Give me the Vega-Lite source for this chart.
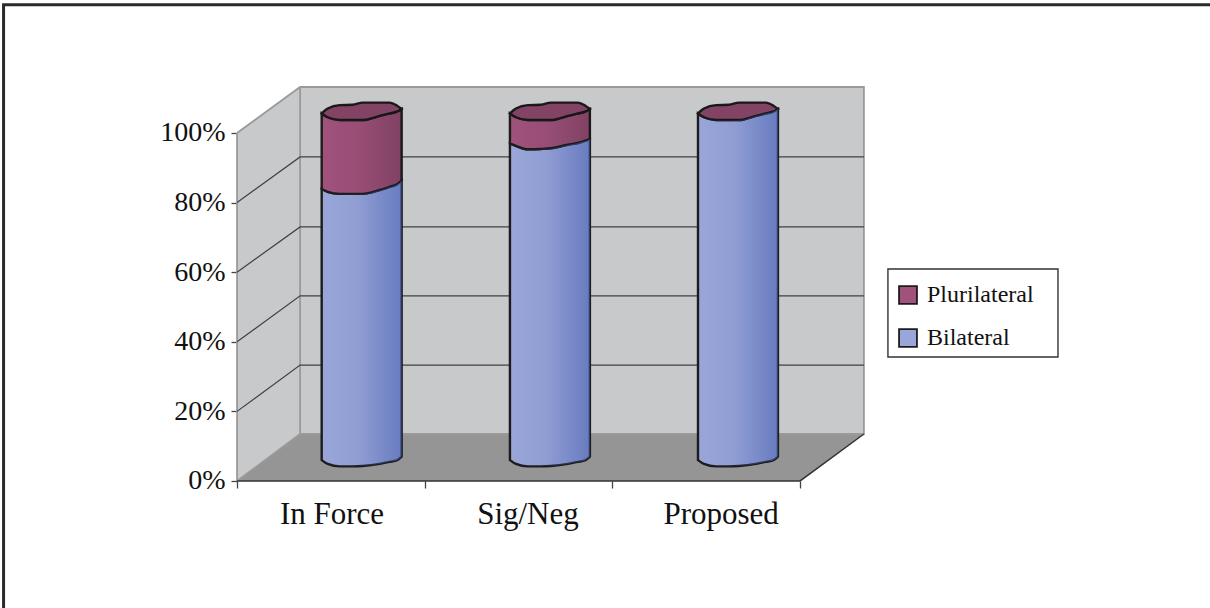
{"$schema":"https://vega.github.io/schema/vega-lite/v6.json","width":1210,"height":608,"padding":0,"autosize":{"type":"none"},"background":"white","config":{"view":{"stroke":null}},
"datasets":{
"walls":[{"kind":"side","x":0,"y":0,"y2":1},{"kind":"side","x":0.336,"y":0.135,"y2":1.132},
{"kind":"back","x":0.336,"y":0.135,"y2":1.132},{"kind":"back","x":3.34,"y":0.135,"y2":1.132},
{"kind":"floor","x":0,"y":0,"y2":0},{"kind":"floor","x":0.336,"y":0,"y2":0.135},{"kind":"floor","x":3,"y":0,"y2":0.135},{"kind":"floor","x":3.34,"y":0.135,"y2":0.135}],
"lines":[
{"kind":"grid","id":"g20","o":0,"x":0,"y":0.2},{"kind":"grid","id":"g20","o":1,"x":0.336,"y":0.333},{"kind":"grid","id":"g20","o":2,"x":3.34,"y":0.333},
{"kind":"grid","id":"g40","o":0,"x":0,"y":0.4},{"kind":"grid","id":"g40","o":1,"x":0.336,"y":0.532},{"kind":"grid","id":"g40","o":2,"x":3.34,"y":0.532},
{"kind":"grid","id":"g60","o":0,"x":0,"y":0.6},{"kind":"grid","id":"g60","o":1,"x":0.336,"y":0.73},{"kind":"grid","id":"g60","o":2,"x":3.34,"y":0.73},
{"kind":"grid","id":"g80","o":0,"x":0,"y":0.8},{"kind":"grid","id":"g80","o":1,"x":0.336,"y":0.931},{"kind":"grid","id":"g80","o":2,"x":3.34,"y":0.931},
{"kind":"edge","id":"e1","o":0,"x":0,"y":1},{"kind":"edge","id":"e1","o":1,"x":0.336,"y":1.132},{"kind":"edge","id":"e1","o":2,"x":3.34,"y":1.132},{"kind":"edge","id":"e1","o":3,"x":3.34,"y":0.135},{"kind":"edge","id":"e1","o":4,"x":0.336,"y":0.135},{"kind":"edge","id":"e1","o":5,"x":0.336,"y":1.132},
{"kind":"edge","id":"e2","o":0,"x":0,"y":0},{"kind":"edge","id":"e2","o":1,"x":0.336,"y":0.135},
{"kind":"edge","id":"e3","o":0,"x":0,"y":0},{"kind":"edge","id":"e3","o":1,"x":0,"y":1},
{"kind":"dark","id":"d1","o":0,"x":0,"y":0},{"kind":"dark","id":"d1","o":1,"x":3,"y":0},{"kind":"dark","id":"d1","o":2,"x":3.34,"y":0.135},
{"kind":"frame","id":"f","o":0,"x":-1.244,"y":-0.365},{"kind":"frame","id":"f","o":1,"x":-1.244,"y":1.368},{"kind":"frame","id":"f","o":2,"x":5.184,"y":1.368}],
"cyl":[
{"series":"Bilateral","part":"body","seg":"A1","x":0.451,"y":0.06,"y2":0.839},{"series":"Bilateral","part":"body","seg":"A1","x":0.483,"y":0.049,"y2":0.831},{"series":"Bilateral","part":"body","seg":"A1","x":0.547,"y":0.042,"y2":0.825},{"series":"Bilateral","part":"body","seg":"A1","x":0.616,"y":0.042,"y2":0.825},{"series":"Bilateral","part":"body","seg":"A1","x":0.669,"y":0.043,"y2":0.825},{"series":"Bilateral","part":"body","seg":"A1","x":0.76,"y":0.049,"y2":0.836},{"series":"Bilateral","part":"body","seg":"A1","x":0.813,"y":0.055,"y2":0.845},{"series":"Bilateral","part":"body","seg":"A1","x":0.851,"y":0.059,"y2":0.852},{"series":"Bilateral","part":"body","seg":"A1","x":0.877,"y":0.07,"y2":0.863},
{"series":"Plurilateral","part":"body","seg":"A2","x":0.451,"y":0.839,"y2":1.056},{"series":"Plurilateral","part":"body","seg":"A2","x":0.483,"y":0.831,"y2":1.045},{"series":"Plurilateral","part":"body","seg":"A2","x":0.547,"y":0.825,"y2":1.037},{"series":"Plurilateral","part":"body","seg":"A2","x":0.616,"y":0.825,"y2":1.037},{"series":"Plurilateral","part":"body","seg":"A2","x":0.669,"y":0.825,"y2":1.037},{"series":"Plurilateral","part":"body","seg":"A2","x":0.76,"y":0.836,"y2":1.049},{"series":"Plurilateral","part":"body","seg":"A2","x":0.813,"y":0.845,"y2":1.056},{"series":"Plurilateral","part":"body","seg":"A2","x":0.851,"y":0.852,"y2":1.061},{"series":"Plurilateral","part":"body","seg":"A2","x":0.877,"y":0.863,"y2":1.069},
{"series":"Plurilateral","part":"cap","seg":"A3","x":0.451,"y":1.056,"y2":1.056},{"series":"Plurilateral","part":"cap","seg":"A3","x":0.483,"y":1.045,"y2":1.07},{"series":"Plurilateral","part":"cap","seg":"A3","x":0.547,"y":1.037,"y2":1.08},{"series":"Plurilateral","part":"cap","seg":"A3","x":0.616,"y":1.037,"y2":1.081},{"series":"Plurilateral","part":"cap","seg":"A3","x":0.669,"y":1.037,"y2":1.087},{"series":"Plurilateral","part":"cap","seg":"A3","x":0.76,"y":1.049,"y2":1.087},{"series":"Plurilateral","part":"cap","seg":"A3","x":0.813,"y":1.056,"y2":1.087},{"series":"Plurilateral","part":"cap","seg":"A3","x":0.851,"y":1.061,"y2":1.079},{"series":"Plurilateral","part":"cap","seg":"A3","x":0.877,"y":1.069,"y2":1.069},
{"series":"Bilateral","part":"body","seg":"B1","x":1.454,"y":0.06,"y2":0.97},{"series":"Bilateral","part":"body","seg":"B1","x":1.486,"y":0.049,"y2":0.963},{"series":"Bilateral","part":"body","seg":"B1","x":1.55,"y":0.042,"y2":0.953},{"series":"Bilateral","part":"body","seg":"B1","x":1.619,"y":0.042,"y2":0.954},{"series":"Bilateral","part":"body","seg":"B1","x":1.672,"y":0.043,"y2":0.956},{"series":"Bilateral","part":"body","seg":"B1","x":1.763,"y":0.049,"y2":0.966},{"series":"Bilateral","part":"body","seg":"B1","x":1.816,"y":0.055,"y2":0.971},{"series":"Bilateral","part":"body","seg":"B1","x":1.854,"y":0.059,"y2":0.977},{"series":"Bilateral","part":"body","seg":"B1","x":1.88,"y":0.07,"y2":0.982},
{"series":"Plurilateral","part":"body","seg":"B2","x":1.454,"y":0.97,"y2":1.056},{"series":"Plurilateral","part":"body","seg":"B2","x":1.486,"y":0.963,"y2":1.045},{"series":"Plurilateral","part":"body","seg":"B2","x":1.55,"y":0.953,"y2":1.037},{"series":"Plurilateral","part":"body","seg":"B2","x":1.619,"y":0.954,"y2":1.037},{"series":"Plurilateral","part":"body","seg":"B2","x":1.672,"y":0.956,"y2":1.037},{"series":"Plurilateral","part":"body","seg":"B2","x":1.763,"y":0.966,"y2":1.049},{"series":"Plurilateral","part":"body","seg":"B2","x":1.816,"y":0.971,"y2":1.056},{"series":"Plurilateral","part":"body","seg":"B2","x":1.854,"y":0.977,"y2":1.061},{"series":"Plurilateral","part":"body","seg":"B2","x":1.88,"y":0.982,"y2":1.069},
{"series":"Plurilateral","part":"cap","seg":"B3","x":1.454,"y":1.056,"y2":1.056},{"series":"Plurilateral","part":"cap","seg":"B3","x":1.486,"y":1.045,"y2":1.07},{"series":"Plurilateral","part":"cap","seg":"B3","x":1.55,"y":1.037,"y2":1.08},{"series":"Plurilateral","part":"cap","seg":"B3","x":1.619,"y":1.037,"y2":1.081},{"series":"Plurilateral","part":"cap","seg":"B3","x":1.672,"y":1.037,"y2":1.087},{"series":"Plurilateral","part":"cap","seg":"B3","x":1.763,"y":1.049,"y2":1.087},{"series":"Plurilateral","part":"cap","seg":"B3","x":1.816,"y":1.056,"y2":1.087},{"series":"Plurilateral","part":"cap","seg":"B3","x":1.854,"y":1.061,"y2":1.079},{"series":"Plurilateral","part":"cap","seg":"B3","x":1.88,"y":1.069,"y2":1.069},
{"series":"Bilateral","part":"body","seg":"C1","x":2.456,"y":0.06,"y2":1.056},{"series":"Bilateral","part":"body","seg":"C1","x":2.488,"y":0.049,"y2":1.045},{"series":"Bilateral","part":"body","seg":"C1","x":2.552,"y":0.042,"y2":1.037},{"series":"Bilateral","part":"body","seg":"C1","x":2.621,"y":0.042,"y2":1.037},{"series":"Bilateral","part":"body","seg":"C1","x":2.674,"y":0.043,"y2":1.037},{"series":"Bilateral","part":"body","seg":"C1","x":2.765,"y":0.049,"y2":1.049},{"series":"Bilateral","part":"body","seg":"C1","x":2.818,"y":0.055,"y2":1.056},{"series":"Bilateral","part":"body","seg":"C1","x":2.856,"y":0.059,"y2":1.061},{"series":"Bilateral","part":"body","seg":"C1","x":2.882,"y":0.07,"y2":1.069},
{"series":"Plurilateral","part":"cap","seg":"C3","x":2.456,"y":1.056,"y2":1.056},{"series":"Plurilateral","part":"cap","seg":"C3","x":2.488,"y":1.045,"y2":1.07},{"series":"Plurilateral","part":"cap","seg":"C3","x":2.552,"y":1.037,"y2":1.08},{"series":"Plurilateral","part":"cap","seg":"C3","x":2.621,"y":1.037,"y2":1.081},{"series":"Plurilateral","part":"cap","seg":"C3","x":2.674,"y":1.037,"y2":1.087},{"series":"Plurilateral","part":"cap","seg":"C3","x":2.765,"y":1.049,"y2":1.087},{"series":"Plurilateral","part":"cap","seg":"C3","x":2.818,"y":1.056,"y2":1.087},{"series":"Plurilateral","part":"cap","seg":"C3","x":2.856,"y":1.061,"y2":1.079},{"series":"Plurilateral","part":"cap","seg":"C3","x":2.882,"y":1.069,"y2":1.069}],
"cats":[{"label":"In Force","x":0.506,"y":-0.098},{"label":"Sig/Neg","x":1.55,"y":-0.098},{"label":"Proposed","x":2.579,"y":-0.098}],
"box":[{"x":3.468,"x2":4.374,"y":0.356,"y2":0.609}]},
"encoding":{
"x":{"field":"x","type":"quantitative","scale":{"domain":[-1.263,5.184],"nice":false,"zero":false},"axis":{"values":[0,1,2,3],"labels":false,"title":null,"grid":false,"domain":false,"offset":-127,"tickSize":7,"tickColor":"#444","tickWidth":1.3}},
"y":{"field":"y","type":"quantitative","stack":null,"scale":{"domain":[-0.365,1.382],"nice":false,"zero":false},"axis":{"values":[0,0.2,0.4,0.6,0.8,1],"format":".0%","title":null,"grid":false,"domain":false,"offset":-237,"tickSize":6,"tickColor":"#444","tickWidth":1.3,"labelFont":"Liberation Serif","labelFontSize":28,"labelColor":"#111","labelPadding":6}}},
"layer":[
{"data":{"name":"walls"},"transform":[{"filter":"datum.kind=='side'"}],"mark":{"type":"area","orient":"vertical","color":"#c8c9cb"},"encoding":{"y2":{"field":"y2"}}},
{"data":{"name":"walls"},"transform":[{"filter":"datum.kind=='back'"}],"mark":{"type":"area","orient":"vertical","color":"#c8c9cb"},"encoding":{"y2":{"field":"y2"}}},
{"data":{"name":"walls"},"transform":[{"filter":"datum.kind=='floor'"}],"mark":{"type":"area","orient":"vertical","color":"#959595"},"encoding":{"y2":{"field":"y2"}}},
{"data":{"name":"lines"},"transform":[{"filter":"datum.kind=='edge'"}],"mark":{"type":"line","color":"#9a9a9a","strokeWidth":1.8},"encoding":{"detail":{"field":"id"},"order":{"field":"o"}}},
{"data":{"name":"lines"},"transform":[{"filter":"datum.kind=='grid'"}],"mark":{"type":"line","color":"#404040","strokeWidth":1.2},"encoding":{"detail":{"field":"id"},"order":{"field":"o"}}},
{"data":{"name":"lines"},"transform":[{"filter":"datum.kind=='dark'"}],"mark":{"type":"line","color":"#333333","strokeWidth":1.5},"encoding":{"detail":{"field":"id"},"order":{"field":"o"}}},
{"data":{"name":"lines"},"transform":[{"filter":"datum.kind=='frame'"}],"mark":{"type":"line","color":"#2a2a2a","strokeWidth":3},"encoding":{"detail":{"field":"id"},"order":{"field":"o"}}},
{"data":{"name":"cyl"},"mark":{"type":"area","orient":"vertical","interpolate":"monotone","stroke":"#1c1c1c","strokeWidth":2.4,"opacity":1},"encoding":{"y2":{"field":"y2"},"detail":{"field":"seg"},"color":{"field":"series","type":"nominal","scale":{"domain":["Plurilateral","Bilateral"],"range":["#a0527c","#9aa6d8"]},"legend":{"orient":"none","legendX":896,"legendY":283,"title":null,"symbolType":"square","symbolSize":320,"symbolStrokeColor":"#1c1c1c","symbolStrokeWidth":1.8,"symbolOpacity":1,"labelFont":"Liberation Serif","labelFontSize":24,"labelColor":"#111","labelOffset":7,"rowPadding":17,"padding":0}}}},
{"data":{"name":"cyl"},"transform":[{"filter":"datum.part=='body' && datum.series=='Bilateral'"}],"mark":{"type":"area","orient":"vertical","interpolate":"monotone","strokeWidth":0,"color":{"gradient":"linear","x1":0,"y1":0,"x2":1,"y2":0,"stops":[{"offset":0,"color":"rgba(70,95,175,0)"},{"offset":0.45,"color":"rgba(70,95,175,0.12)"},{"offset":1,"color":"rgba(70,95,175,0.6)"}]}},"encoding":{"y2":{"field":"y2"},"detail":{"field":"seg"}}},
{"data":{"name":"cyl"},"transform":[{"filter":"datum.part=='body' && datum.series=='Plurilateral'"}],"mark":{"type":"area","orient":"vertical","interpolate":"monotone","strokeWidth":0,"color":{"gradient":"linear","x1":0,"y1":0,"x2":1,"y2":0,"stops":[{"offset":0,"color":"rgba(0,0,0,0)"},{"offset":0.45,"color":"rgba(0,0,0,0.05)"},{"offset":1,"color":"rgba(0,0,0,0.2)"}]}},"encoding":{"y2":{"field":"y2"},"detail":{"field":"seg"}}},
{"data":{"name":"cyl"},"transform":[{"filter":"datum.part=='cap'"}],"mark":{"type":"area","orient":"vertical","interpolate":"monotone","color":"#000000","opacity":0.18,"strokeWidth":0},"encoding":{"y2":{"field":"y2"},"detail":{"field":"seg"}}},
{"data":{"name":"cats"},"mark":{"type":"text","font":"Liberation Serif","fontSize":31,"color":"#111","align":"center","baseline":"middle"},"encoding":{"text":{"field":"label"}}},
{"data":{"name":"box"},"mark":{"type":"rect","fill":"white","stroke":"#333333","strokeWidth":1.4},"encoding":{"x2":{"field":"x2"},"y2":{"field":"y2"}}}
]}
